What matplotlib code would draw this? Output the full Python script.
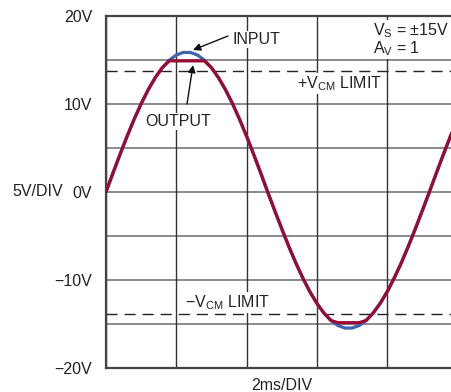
import matplotlib
matplotlib.use("Agg")
import matplotlib.pyplot as plt

plt.rcParams['font.family'] = ['Liberation Sans', 'DejaVu Sans']
plt.rcParams['mathtext.fontset'] = 'custom'
plt.rcParams['mathtext.rm'] = 'Liberation Sans'
plt.rcParams['mathtext.it'] = 'Liberation Sans'

# time in ms (2ms/DIV), sampled every 0.2 ms
time_ms = [round(0.2 * i, 1) for i in range(51)]

# input waveform (V)
input_v = [0, 2.17, 4.29, 6.33, 8.26, 10.03, 11.62, 12.99, 14.12, 14.98,
           15.57, 15.86, 15.86, 15.57, 14.98, 14.12, 12.99, 11.62, 10.03, 8.26,
           6.33, 4.29, 2.17, 0,
           -2.11, -4.18, -6.18, -8.06, -9.78, -11.33, -12.66, -13.76, -14.60, -15.18,
           -15.46, -15.46, -15.18, -14.60, -13.76, -12.66, -11.33, -9.78, -8.06, -6.18,
           -4.18, -2.11, 0,
           2.17, 4.29, 6.33, 8.26]

# output waveform (V): follows input, clipped near the supplies
output_v = [0, 2.17, 4.29, 6.33, 8.26, 10.03, 11.62, 12.99, 14.12, 14.9,
            14.9, 14.9, 14.9, 14.9, 14.9, 14.12, 12.99, 11.62, 10.03, 8.26,
            6.33, 4.29, 2.17, 0,
            -2.11, -4.18, -6.18, -8.06, -9.78, -11.33, -12.66, -13.76, -14.60, -14.85,
            -14.85, -14.85, -14.85, -14.60, -13.76, -12.66, -11.33, -9.78, -8.06, -6.18,
            -4.18, -2.11, 0,
            2.17, 4.29, 6.33, 8.26]

vcm_limits = [13.75, -13.85]
y_ticks = [-20, -15, -10, -5, 0, 5, 10, 15, 20]
y_tick_labels = ['−20V', '', '−10V', '', '0V', '', '10V', '', '20V']
x_ticks = [0, 2, 4, 6, 8, 10]

W, H = 451, 392
fig = plt.figure(figsize=(W / 100, H / 100), dpi=100)
ax = fig.add_axes([106 / W, 24 / H, 351.5 / W, 352 / H])

ax.set_xlim(0, 10)
ax.set_ylim(-20, 20)
ax.set_yticks(y_ticks)
ax.set_yticklabels(y_tick_labels, fontsize=11.5, color='#222222')
ax.set_xticks(x_ticks)
ax.set_xticklabels([])
ax.tick_params(length=0, pad=10)

for y in y_ticks:
    ax.axhline(y, color='#8a8a8a', lw=1.4, zorder=1)
for x in x_ticks:
    ax.axvline(x, color='#333333', lw=1.0, zorder=1)

for v in vcm_limits:
    ax.axhline(v, color='#222222', lw=1.0, dashes=(8, 5), zorder=2)

ax.plot(time_ms, input_v, color='#4461b0', lw=2.3, zorder=3, solid_capstyle='round')
ax.plot(time_ms, output_v, color='#9a0a34', lw=2.3, zorder=4, solid_capstyle='round')

for s in ['left', 'bottom', 'top']:
    ax.spines[s].set_color('#444444')
    ax.spines[s].set_linewidth(1.6)
ax.spines['right'].set_visible(False)


def fx(px):
    return px / W


def fy(py):
    return 1 - py / H


box = dict(facecolor='white', edgecolor='none', pad=1)
tcol = '#222222'
fs = 11.5

fig.text(fx(12), fy(192), '5V/DIV', fontsize=fs, color=tcol, va='center', ha='left')
fig.text(fx(282), fy(390), '2ms/DIV', fontsize=fs, color=tcol, va='baseline', ha='center')

fig.text(fx(373), fy(35), r'V$_\mathrm{S}$ = ±15V', fontsize=fs, color=tcol,
         va='baseline', ha='left', bbox=box, zorder=5)
fig.text(fx(373), fy(53), r'A$_\mathrm{V}$ = 1', fontsize=fs, color=tcol,
         va='baseline', ha='left', bbox=box, zorder=5)
fig.text(fx(297), fy(88), r'+V$_\mathrm{CM}$ LIMIT', fontsize=fs, color=tcol,
         va='baseline', ha='left', bbox=box, zorder=5)
fig.text(fx(185), fy(307), r'−V$_\mathrm{CM}$ LIMIT', fontsize=fs, color=tcol,
         va='baseline', ha='left', bbox=box, zorder=5)
fig.text(fx(232), fy(44), 'INPUT', fontsize=fs, color=tcol,
         va='baseline', ha='left', bbox=box, zorder=5)
fig.text(fx(145), fy(126), 'OUTPUT', fontsize=fs, color=tcol,
         va='baseline', ha='left', bbox=box, zorder=5)

arrow = dict(arrowstyle='-|>', color='#111111', lw=1.0, mutation_scale=11,
             shrinkA=0, shrinkB=0)
fig.add_artist(matplotlib.patches.FancyArrowPatch(
    (fx(228), fy(36)), (fx(193), fy(50)), transform=fig.transFigure, **arrow))
fig.add_artist(matplotlib.patches.FancyArrowPatch(
    (fx(187), fy(104)), (fx(193), fy(65)), transform=fig.transFigure, **arrow))

fig.savefig('out.png', dpi=100)
